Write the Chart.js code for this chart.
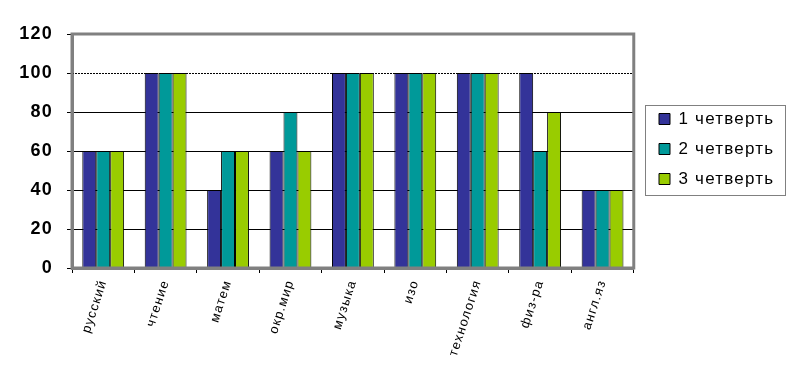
<!DOCTYPE html>
<html><head><meta charset="utf-8">
<script src="https://cdn.jsdelivr.net/npm/chart.js@4/dist/chart.umd.min.js"></script>
<style>html,body{margin:0;padding:0;background:#fff}#wrap{width:798px;height:380px}</style>
</head><body><div id="wrap"><canvas id="c" width="798" height="380"></canvas></div>
<script>
const categories = ['русский','чтение','матем','окр.мир','музыка','изо','технология','физ-ра','англ.яз'];
const quarter1 = [60,100,40,60,100,100,100,100,40];
const quarter2 = [60,100,60,80,100,100,100,60,40];
const quarter3 = [60,100,60,60,100,100,100,80,40];
const seriesNames = ['1 четверть','2 четверть','3 четверть'];
const seriesColors = ['#333399','#009999','#99CC00'];
const yMin = 0, yMax = 120, yStep = 20;
const dottedGridValue = 100;
const FONT = 'Arial, "Liberation Sans", sans-serif';
let legendRect = null;

const frame = {
  id:'frame',
  beforeLayout(chart){ try{ chart.ctx.letterSpacing='1.2px'; }catch(e){} },
  beforeDraw(chart){
    try{ chart.ctx.letterSpacing='1.2px'; }catch(e){}
    const l = chart.legend;
    if (!l || !l.legendHitBoxes || !l.legendHitBoxes.length) return;
    const hbs = l.legendHitBoxes;
    const hb = hbs[0];
    const dx = 659 - hb.left;
    const dy = 119 - (hb.top + hb.height/2);
    l.left += dx; l.right += dx; l.top += dy; l.bottom += dy;
    hbs.forEach(h=>{ h.left += dx; h.top += dy; });
    const first = hbs[0], last = hbs[hbs.length-1];
    let maxRight = 0;
    hbs.forEach(h=>{ maxRight = Math.max(maxRight, h.left + h.width); });
    legendRect = {
      left: first.left - 14,
      right: maxRight + 11,
      top: first.top + first.height/2 - 14,
      bottom: last.top + last.height/2 + 16
    };
  },
  beforeDatasetsDraw(chart){
    const {ctx, chartArea:a, scales:{y}} = chart;
    const py = Math.round(y.getPixelForValue(dottedGridValue))+0.5;
    ctx.save();
    ctx.strokeStyle='#000'; ctx.lineWidth=1; ctx.setLineDash([2,1]);
    ctx.beginPath(); ctx.moveTo(a.left,py); ctx.lineTo(a.right,py); ctx.stroke();
    ctx.restore();
  },
  afterDraw(chart){
    const {ctx, chartArea:a} = chart;
    ctx.save();
    ctx.strokeStyle='#808080'; ctx.lineWidth=3;
    ctx.strokeRect(a.left, a.top, a.right-a.left, a.bottom-a.top);
    ctx.restore();
    if (legendRect){
      const r = legendRect;
      ctx.save();
      ctx.strokeStyle='#000'; ctx.lineWidth=1; ctx.setLineDash([1,1]);
      ctx.beginPath();
      ctx.rect(Math.round(r.left)+0.5, Math.round(r.top)+0.5, Math.round(r.right-r.left), Math.round(r.bottom-r.top));
      ctx.stroke();
      ctx.restore();
    }
  }
};

new Chart(document.getElementById('c'), {
  type:'bar',
  data:{
    labels:categories,
    datasets:[quarter1,quarter2,quarter3].map((d,i)=>({
      label:seriesNames[i], data:d, backgroundColor:seriesColors[i],
      borderColor:'#000', borderWidth:1, categoryPercentage:0.67, barPercentage:1
    }))
  },
  options:{
    responsive:false, animation:false,
    layout:{padding:{top:34,right:26,left:10,bottom:0}},
    plugins:{
      legend:{position:'right', align:'center',
        labels:{font:{family:FONT,size:17}, color:'#000', boxWidth:11, boxHeight:11, padding:13}},
      tooltip:{enabled:false}
    },
    scales:{
      x:{
        grid:{offset:true, drawOnChartArea:false, drawTicks:true, tickLength:5, color:'#000'},
        border:{display:true,color:'#808080',width:3},
        ticks:{minRotation:72,maxRotation:72, font:{family:FONT,size:13}, color:'#000', padding:5},
        afterFit(s){ s.height = 112; }
      },
      y:{
        min:yMin,max:yMax,
        ticks:{stepSize:yStep, font:{family:FONT,size:18,weight:'bold'}, color:'#000', padding:14},
        grid:{color:(c)=> (c.tick && (c.tick.value===dottedGridValue || c.tick.value===yMax)) ? 'rgba(0,0,0,0)' : '#000', tickColor:'#000', tickLength:5},
        border:{display:true,color:'#808080',width:3},
        afterFit(s){ s.width = 62; }
      }
    }
  },
  plugins:[frame]
});
</script></body></html>
